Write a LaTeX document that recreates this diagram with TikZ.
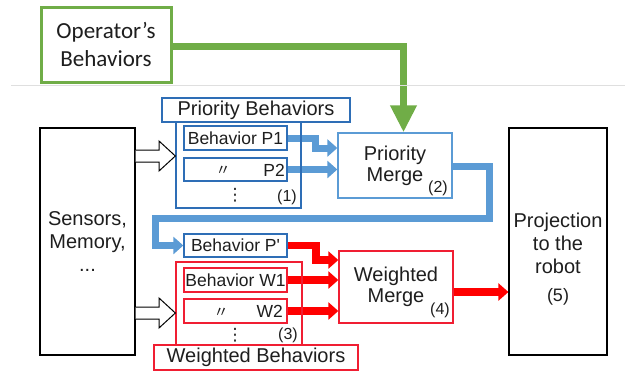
\documentclass[tikz,border=0pt]{standalone}
\usepackage{fontspec}
\setmainfont{Liberation Sans}
\newfontfamily\calibri{Carlito}
\newfontfamily\djv{DejaVu Sans}
\newfontfamily\cjk{Noto Sans CJK JP}
\usetikzlibrary{arrows.meta,calc}
\definecolor{opgreen}{RGB}{112,173,71}
\definecolor{arrblue}{RGB}{91,155,213}
\definecolor{boxblue}{RGB}{46,110,182}
\definecolor{mergeblue}{RGB}{91,155,213}
\definecolor{boxred}{RGB}{240,30,50}
\definecolor{txt}{RGB}{30,30,30}
\pgfdeclarelayer{bg}
\pgfsetlayers{bg,main}
\tikzset{
 bx/.style={draw, line width=1.3pt, inner sep=0pt, align=center, fill=white, text=txt},
 bluebx/.style={bx, draw=boxblue},
 redbx/.style={bx, draw=boxred},
 grp/.style={draw, line width=1.3pt, inner sep=0pt},
 big/.style={font=\fontsize{20}{21}\selectfont},
 small/.style={font=\fontsize{17.5}{20}\selectfont},
 lbl/.style={inner sep=0pt, text=txt},
 num/.style={lbl, anchor=east, font=\fontsize{16}{18}\selectfont},
 vdots/.style={lbl, font=\djv\fontsize{17}{17}\selectfont},
 ditto/.style={lbl, font=\cjk\fontsize{15}{15}\selectfont},
 barrow/.style={draw=arrblue, line width=7pt, line join=miter, -{Triangle[width=17pt,length=10pt]}},
 rarrow/.style={draw=red, line width=7.5pt, line join=miter, -{Triangle[width=17pt,length=10pt]}},
 garrow/.style={draw=opgreen, line width=7pt, line join=miter, -{Triangle[width=25pt,length=27pt]}},
 hollow/.style={draw=black, line width=1pt, fill=white, line join=miter}
}
\begin{document}
\begin{tikzpicture}[x=1pt,y=-1pt]
\useasboundingbox (0,0) rectangle (625,372);
\draw[gray!25, line width=0.8pt] (11,85) -- (625,85);

% operator
\node[bx, draw=opgreen, line width=3pt, minimum width=130pt, minimum height=75pt,
      font=\calibri\fontsize{23}{28}\selectfont] (op) at (106,44.5) {Operator’s\\Behaviors};

% priority group
\node[grp, draw=boxblue, minimum width=125pt, minimum height=86pt] (pgrp) at (238.5,165) {};
\node[bluebx, big, minimum width=188pt, minimum height=24pt] (pbt) at (256,110) {Priority Behaviors};
\node[bluebx, small, minimum width=103pt, minimum height=24pt] (p1) at (235.5,138) {Behavior P1};
\node[bluebx, minimum width=103pt, minimum height=23pt] (p2) at (235.5,169.5) {};
\node[lbl, small, anchor=east] (p2t) at (285,170) {P2};
\node[ditto] (p2d) at (223,170.5) {〃};
\node[vdots] (pdots) at (235,195) {⋮};
\node[num] (n1) at (297,197) {(1)};
\node[bx, draw=mergeblue, big, minimum width=114pt, minimum height=65pt] (pm) at (395,165.5) {Priority\\Merge};
\node[num] (n2) at (448,188) {(2)};

% P'
\node[bluebx, small, minimum width=103pt, minimum height=23pt] (pp) at (235.5,245.5) {Behavior P\textquotesingle};

% weighted group
\node[grp, draw=boxred, minimum width=126pt, minimum height=83pt] (wgrp) at (239,303.5) {};
\node[redbx, small, minimum width=103pt, minimum height=24pt] (w1) at (235.5,280) {Behavior W1};
\node[redbx, minimum width=103pt, minimum height=24pt] (w2) at (235.5,311) {};
\node[lbl, small, anchor=east] (w2t) at (283,311.5) {W2};
\node[ditto] (w2d) at (221,312.5) {〃};
\node[vdots] (wdots) at (235,335) {⋮};
\node[num] (n3) at (298,335) {(3)};
\node[redbx, big, minimum width=204pt, minimum height=25pt] (wbt) at (256,357.5) {Weighted Behaviors};
\node[bx, draw=boxred, big, minimum width=114pt, minimum height=72pt] (wm) at (396,287) {Weighted\\Merge};
\node[num] (n4) at (450,310) {(4)};

% sensors and projection
\node[bx, draw=black, line width=1.2pt, minimum width=95pt, minimum height=227pt,
      font=\fontsize{20}{23}\selectfont] (sens) at (87.5,241.5) {Sensors,\\Memory,\\...};
\node[bx, draw=black, line width=1.2pt, minimum width=98pt, minimum height=227pt] (proj) at (558,241.5) {};
\node[lbl, align=center, font=\fontsize{20}{23}\selectfont] (projt) at (558,243) {Projection\\to the\\robot};
\node[lbl, font=\fontsize{18}{20}\selectfont] (n5) at (558,297) {(5)};

% hollow arrows
\draw[hollow] (sens.east |- 0,150) -- (159,150) -- (159,141) -- (pgrp.west |- 0,156)
  -- (159,171) -- (159,162) -- (sens.east |- 0,162);
\draw[hollow] (sens.east |- 0,307) -- (159,307) -- (159,298) -- (wgrp.west |- 0,313)
  -- (159,328) -- (159,319) -- (sens.east |- 0,319);

\begin{pgfonlayer}{bg}
\draw[garrow] (op.east |- 0,46.5) -- (403.5,46.5) -- (pm.north -| 403.5,0);
\draw[barrow] (p1.east) -- (315,138) -- (315,148) -- (pm.west |- 0,148);
\draw[barrow] (p2.east) -- (pm.west |- p2.east);
\draw[barrow] (pm.east |- 0,166) -- (489,166) -- (489,218) -- (155,218) -- (155,245.5) -- (pp.west);
\draw[rarrow] (pp.east) -- (316,245.5) -- (316,260) -- (wm.west |- 0,260);
\draw[rarrow] (w1.east) -- (wm.west |- w1.east);
\draw[rarrow] (w2.east) -- (wm.west |- w2.east);
\draw[rarrow] (wm.east |- 0,292) -- (proj.west |- 0,292);
\end{pgfonlayer}
\end{tikzpicture}
\end{document}
